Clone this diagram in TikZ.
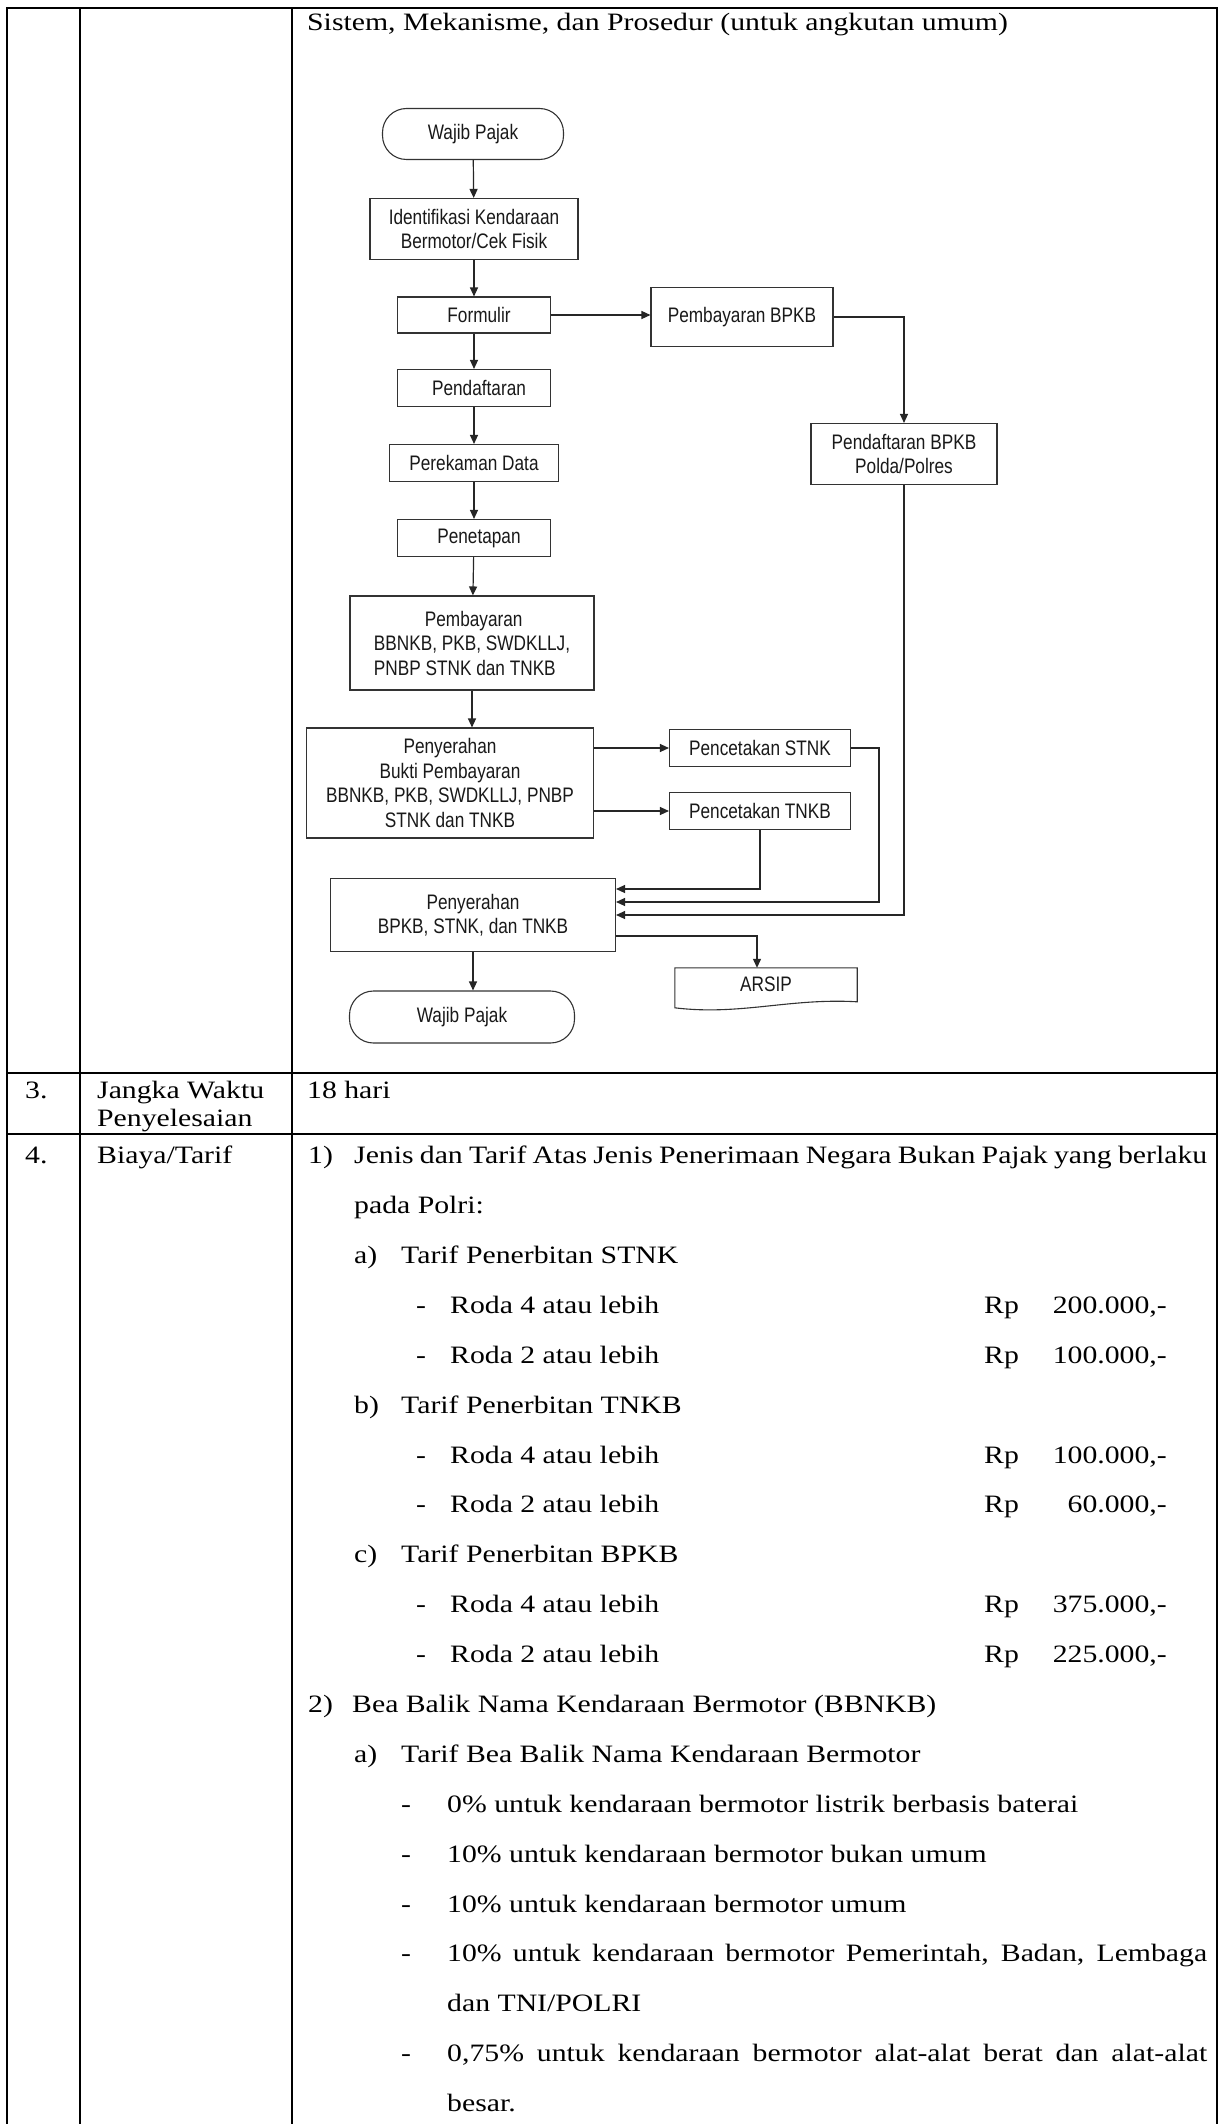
\documentclass[tikz,border=0pt]{standalone}
\usepackage{fontspec}
\setmainfont{Liberation Serif}[FakeStretch=1.19]
\newfontfamily\chartfont{Liberation Sans}[FakeStretch=0.82]
\usetikzlibrary{arrows.meta,calc}

\begin{document}
\begin{tikzpicture}[x=1pt,y=-1pt,
  grid/.style={line width=2.5pt,black},
  txt/.style={anchor=base west,inner sep=0pt,font=\fontsize{25}{30}\selectfont},
  amt/.style={anchor=base east,inner sep=0pt,font=\fontsize{25}{30}\selectfont},
  chart/.style={font=\chartfont\fontsize{21}{24.5}\selectfont,text=black!90},
  box/.style={chart,draw=black!80,line width=1.1pt,inner sep=2pt,align=center},
  term/.style={box,rounded corners=24pt},
  boxline/.style={draw=black!80,line width=1.1pt},
  arr/.style={draw=black!85,line width=1.2pt,-{Triangle[length=9pt,width=8pt]}},
]
\fill[white] (0,0) rectangle (1220,2124);
\useasboundingbox (0,0) rectangle (1220,2124);

% table rules
\draw[grid,line join=miter] (7,2124) -- (7,8) -- (1217,8) -- (1217,2124);
\draw[grid] (80,8) -- (80,2124);
\draw[grid] (292,8) -- (292,2124);
\draw[grid] (7,1073) -- (1217,1073);
\draw[grid] (7,1134) -- (1217,1134);

% row 2: flowchart
\node[txt] (title) at (307,31) {Sistem, Mekanisme, dan Prosedur (untuk angkutan umum)};

\node[term,minimum width=181pt,minimum height=51pt] (wp1) at (473,134) {Wajib Pajak};
\node[box,minimum width=208pt,minimum height=61pt] (ident) at (474,229) {Identifikasi Kendaraan\\Bermotor/Cek Fisik};
\node[box,minimum width=153pt,minimum height=36pt] (form) at (474,315) {\hspace*{10pt}Formulir};
\node[box,minimum width=182pt,minimum height=59pt] (bpkbpay) at (742,317) {Pembayaran BPKB};
\node[box,minimum width=153pt,minimum height=37pt] (daftar) at (474,388) {\hspace*{10pt}Pendaftaran};
\node[box,minimum width=186pt,minimum height=61pt] (bpkbreg) at (904,454) {Pendaftaran BPKB\\Polda/Polres};
\node[box,minimum width=169pt,minimum height=37pt] (rekam) at (474,463) {Perekaman Data};
\node[box,minimum width=153pt,minimum height=37pt] (tetap) at (474,538) {\hspace*{10pt}Penetapan};
\node[box,align=left,minimum width=244pt,minimum height=94pt] (bayar) at (472,643) {\hspace*{51pt}Pembayaran\\BBNKB, PKB, SWDKLLJ,\\PNBP STNK dan TNKB};
\node[box,minimum width=287pt,minimum height=110pt] (bukti) at (450,783) {Penyerahan\\Bukti Pembayaran\\BBNKB, PKB, SWDKLLJ, PNBP\\STNK dan TNKB};
\node[box,minimum width=181pt,minimum height=37pt] (stnk) at (760,748) {Pencetakan STNK};
\node[box,minimum width=181pt,minimum height=37pt] (tnkb) at (760,811) {Pencetakan TNKB};
\node[box,minimum width=285pt,minimum height=73pt] (final) at (473,915) {Penyerahan\\BPKB, STNK, dan TNKB};
\node[term,minimum width=225pt,minimum height=52pt] (wp2) at (462,1017) {Wajib Pajak};
\node[chart,inner sep=0pt,minimum width=182pt,minimum height=32pt] (arsip) at (766,984) {ARSIP};
\draw[boxline] (arsip.north west) -- (arsip.north east) -- ($(arsip.north east)+(0,34)$)
  .. controls ($(arsip.north west)+(115,30)$) and ($(arsip.north west)+(65,48)$) .. ($(arsip.north west)+(0,40)$) -- cycle;

% main flow
\draw[arr] (wp1) -- (ident);
\draw[arr] (ident) -- (form);
\draw[arr] (form) -- (daftar);
\draw[arr] (daftar) -- (rekam);
\draw[arr] (rekam) -- (tetap);
\draw[arr] (tetap) -- (bayar);
\draw[arr] (bayar.south) -- (bayar.south |- bukti.north);
\draw[arr] (final.south) -- (final.south |- wp2.north);

% BPKB branch
\draw[arr] (form.east) -- (form.east -| bpkbpay.west);
\draw[arr] (bpkbpay.east) -| (bpkbreg.north);
\draw[arr] (bpkbreg.south) |- (final.east);

% printing branch
\draw[arr] (stnk.west -| bukti.east) -- (stnk.west);
\draw[arr] (tnkb.west -| bukti.east) -- (tnkb.west);
\draw[arr] (stnk.east) -- ++(28,0) |- ($(final.east)+(0,-13)$);
\draw[arr] (tnkb.south) |- ($(final.east)+(0,-26)$);
\draw[arr] ($(final.east)+(0,21)$) -| ($(arsip.north)+(-9,0)$);

% row 3
\node[txt] (n3) at (25,1098) {3.};
\node[txt] (jw1) at (97,1098) {Jangka Waktu};
\node[txt] (jw2) at (97,1126) {Penyelesaian};
\node[txt] (hari) at (307,1098) {18 hari};

% row 4
\node[txt] (n4) at (25,1163) {4.};
\node[txt] (biaya) at (97,1163) {Biaya/Tarif};

\node[txt] (i1) at (308,1163) {1)};
\node[txt] (i1t) at (354,1163) {\makebox[853pt][s]{Jenis dan Tarif Atas Jenis Penerimaan Negara Bukan Pajak yang berlaku}};
\node[txt] (i1u) at (354,1213) {pada Polri:};

\node[txt] (ia) at (354,1263) {a)};
\node[txt] (iat) at (401,1263) {Tarif Penerbitan STNK};
\node[txt] (d1) at (416,1313) {-};
\node[txt] (r1) at (450,1313) {Roda 4 atau lebih};
\node[txt] (rp1) at (984,1313) {Rp};
\node[amt] (v1) at (1167,1313) {200.000,-};
\node[txt] (d2) at (416,1363) {-};
\node[txt] (r2) at (450,1363) {Roda 2 atau lebih};
\node[txt] (rp2) at (984,1363) {Rp};
\node[amt] (v2) at (1167,1363) {100.000,-};

\node[txt] (ib) at (354,1413) {b)};
\node[txt] (ibt) at (401,1413) {Tarif Penerbitan TNKB};
\node[txt] (d3) at (416,1463) {-};
\node[txt] (r3) at (450,1463) {Roda 4 atau lebih};
\node[txt] (rp3) at (984,1463) {Rp};
\node[amt] (v3) at (1167,1463) {100.000,-};
\node[txt] (d4) at (416,1512) {-};
\node[txt] (r4) at (450,1512) {Roda 2 atau lebih};
\node[txt] (rp4) at (984,1512) {Rp};
\node[amt] (v4) at (1167,1512) {60.000,-};

\node[txt] (ic) at (354,1562) {c)};
\node[txt] (ict) at (401,1562) {Tarif Penerbitan BPKB};
\node[txt] (d5) at (416,1612) {-};
\node[txt] (r5) at (450,1612) {Roda 4 atau lebih};
\node[txt] (rp5) at (984,1612) {Rp};
\node[amt] (v5) at (1167,1612) {375.000,-};
\node[txt] (d6) at (416,1662) {-};
\node[txt] (r6) at (450,1662) {Roda 2 atau lebih};
\node[txt] (rp6) at (984,1662) {Rp};
\node[amt] (v6) at (1167,1662) {225.000,-};

\node[txt] (i2) at (308,1712) {2)};
\node[txt] (i2t) at (352,1712) {Bea Balik Nama Kendaraan Bermotor (BBNKB)};
\node[txt] (i2a) at (354,1762) {a)};
\node[txt] (i2at) at (401,1762) {Tarif Bea Balik Nama Kendaraan Bermotor};
\node[txt] (e1) at (401,1812) {-};
\node[txt] (e1t) at (447,1812) {0\% untuk kendaraan bermotor listrik berbasis baterai};
\node[txt] (e2) at (401,1862) {-};
\node[txt] (e2t) at (447,1862) {10\% untuk kendaraan bermotor bukan umum};
\node[txt] (e3) at (401,1912) {-};
\node[txt] (e3t) at (447,1912) {10\% untuk kendaraan bermotor umum};
\node[txt] (e4) at (401,1961) {-};
\node[txt] (e4t) at (447,1961) {\makebox[760pt][s]{10\% untuk kendaraan bermotor Pemerintah, Badan, Lembaga}};
\node[txt] (e4u) at (447,2011) {dan TNI/POLRI};
\node[txt] (e5) at (401,2061) {-};
\node[txt] (e5t) at (447,2061) {\makebox[760pt][s]{0,75\% untuk kendaraan bermotor alat-alat berat dan alat-alat}};
\node[txt] (e5u) at (447,2111) {besar.};
\end{tikzpicture}
\end{document}
